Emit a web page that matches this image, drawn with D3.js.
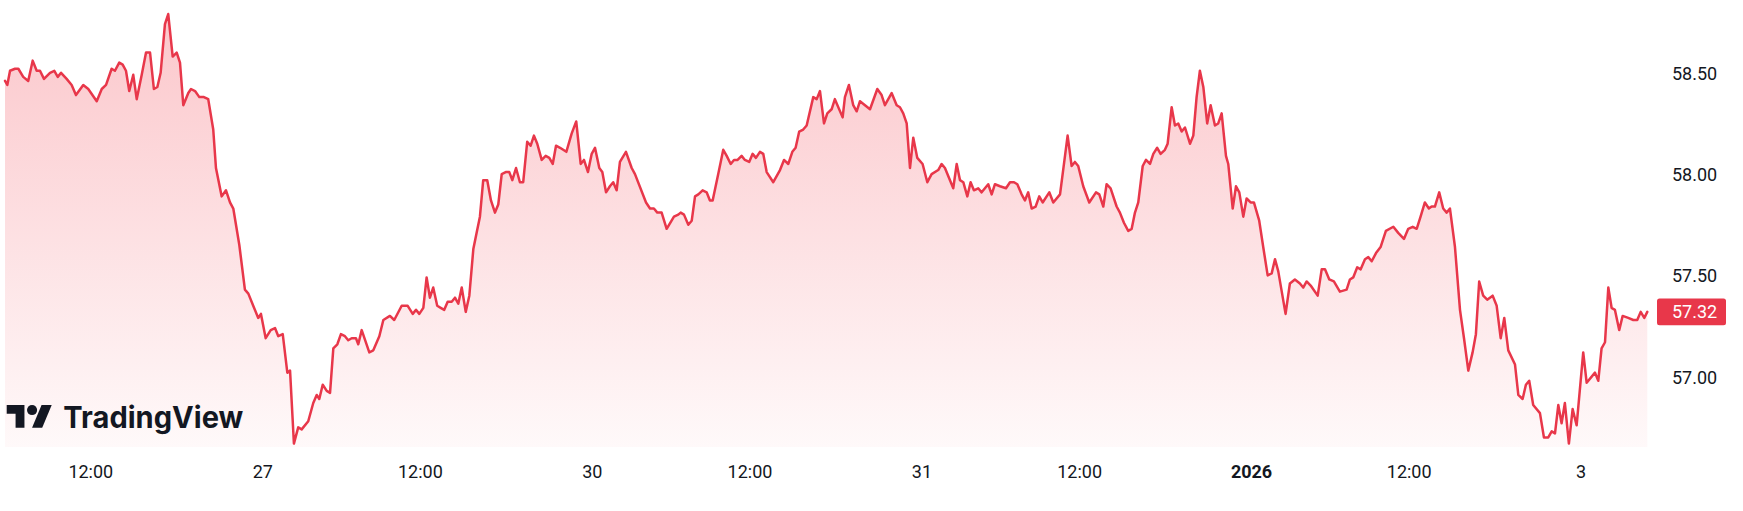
<!DOCTYPE html>
<html><head><meta charset="utf-8">
<script src="https://cdn.jsdelivr.net/npm/d3@7"></script>
<style>html,body{margin:0;padding:0;background:#fff;overflow:hidden}</style>
</head><body>
<svg id="chart" width="1743" height="511"></svg>
<script>
// trading hours elapsed since the first "12:00" tick
const hours = [-5.95,-5.79,-5.60,-5.25,-5.02,-4.68,-4.33,-4.02,-3.74,-3.51,-3.23,-2.81,-2.51,-2.27,-2.04,-1.65,-1.30,-1.00,-0.49,-0.14,
0.45,0.80,1.10,1.49,1.72,2.02,2.26,2.49,2.72,3.00,3.24,3.59,3.89,4.17,4.44,4.68,4.91,5.21,5.44,5.75,
6.03,6.26,6.49,6.84,7.03,7.31,7.61,7.93,8.23,8.58,8.77,9.17,9.47,9.75,9.98,10.40,10.79,11.03,11.37,11.72,
11.91,12.24,12.59,12.89,13.12,13.43,13.75,13.94,14.21,14.51,14.75,15.21,15.56,15.80,15.98,16.22,16.50,16.73,16.96,17.24,
17.49,17.77,18.00,18.24,18.54,18.70,18.94,19.47,19.75,20.17,20.45,20.91,21.21,21.73,22.15,22.50,22.73,22.96,23.24,23.47,
23.70,23.93,24.21,24.45,24.70,24.94,25.22,25.45,25.68,25.92,26.20,26.45,26.73,26.96,27.19,27.42,27.70,27.96,28.24,28.47,
28.71,28.99,29.24,29.45,29.71,29.98,30.21,30.49,30.73,30.96,31.19,31.50,31.78,32.03,32.27,32.50,32.78,33.22,33.59,33.91,
34.22,34.45,34.73,34.99,35.22,35.52,35.73,35.99,36.26,36.49,36.73,36.96,37.38,37.78,38.01,38.78,39.06,39.33,39.57,39.87,
40.22,40.73,41.03,41.20,41.43,41.73,41.97,42.20,42.43,42.73,43.01,43.24,43.43,43.82,44.17,44.41,44.69,44.92,45.17,45.45,
45.68,45.98,46.22,46.45,46.73,46.96,47.20,47.66,48.13,48.41,48.71,48.99,49.22,49.47,49.75,49.99,50.45,50.69,50.92,51.20,
51.43,51.73,51.96,52.50,52.66,52.94,53.24,53.48,53.71,54.06,54.41,54.92,55.22,55.45,55.92,56.27,56.50,56.73,56.97,57.20,
57.43,57.71,58.08,58.41,58.71,59.17,59.41,59.64,60.22,60.46,60.69,60.92,61.20,61.43,61.66,61.96,62.20,62.66,62.90,63.13,
63.48,63.90,64.18,64.46,64.69,64.99,65.22,65.45,65.69,65.97,66.22,66.46,66.92,67.20,67.67,68.20,68.48,68.71,68.94,69.29,
69.71,70.18,70.41,70.69,70.92,71.20,71.62,71.85,72.13,72.43,72.67,72.90,73.13,73.44,73.67,73.95,74.18,74.45,74.69,74.99,
75.18,75.46,75.69,75.92,76.16,76.39,76.74,76.97,77.20,77.43,77.67,77.94,78.18,78.48,78.71,78.95,79.25,79.41,79.72,79.95,
80.18,80.46,80.69,80.97,81.20,81.57,81.85,82.16,82.44,82.67,82.90,83.41,83.71,84.06,84.41,84.64,84.88,85.16,85.65,85.93,
86.16,86.46,86.78,87.20,87.67,87.90,88.13,88.41,88.65,88.95,89.18,89.42,89.72,90.04,90.41,90.93,91.27,91.67,91.97,92.28,
92.56,92.83,93.13,93.41,93.60,93.83,94.13,94.41,94.65,94.88,95.23,95.58,95.86,96.16,96.46,96.69,96.92,97.20,97.48,97.86,
98.14,98.42,98.67,98.95,99.42,99.65,99.95,100.18,100.41,100.69,101.16,101.44,101.74,101.98,102.21,102.44,102.67,102.90,103.18,103.44,
103.72,104.18,104.42,105.00,105.23,105.46,105.70,105.93,106.16,106.39,106.69,106.93,107.32,107.67,107.95,108.19,108.44,108.65];

const prices = [58.46,58.44,58.51,58.52,58.52,58.48,58.46,58.56,58.51,58.51,58.47,58.50,58.51,58.48,58.50,58.47,58.44,58.39,58.44,58.42,
58.36,58.42,58.44,58.52,58.51,58.55,58.54,58.51,58.41,58.49,58.37,58.49,58.60,58.60,58.42,58.43,58.50,58.74,58.79,58.58,
58.60,58.55,58.34,58.40,58.42,58.41,58.38,58.38,58.37,58.22,58.03,57.89,57.92,57.86,57.83,57.65,57.43,57.41,57.35,57.29,
57.31,57.19,57.23,57.24,57.20,57.21,57.02,57.03,56.67,56.75,56.74,56.78,56.87,56.91,56.89,56.96,56.93,56.92,57.14,57.16,
57.21,57.20,57.18,57.19,57.19,57.16,57.23,57.12,57.13,57.20,57.28,57.30,57.28,57.35,57.35,57.31,57.33,57.31,57.34,57.49,
57.39,57.44,57.35,57.34,57.33,57.37,57.37,57.39,57.36,57.44,57.32,57.40,57.63,57.71,57.79,57.97,57.97,57.87,57.81,57.85,
58.00,58.01,58.01,57.97,58.03,57.96,57.96,58.16,58.14,58.19,58.15,58.07,58.09,58.08,58.05,58.14,58.13,58.11,58.20,58.26,
58.05,58.07,58.01,58.10,58.13,58.03,58.01,57.91,57.94,57.96,57.92,58.06,58.11,58.03,58.00,57.86,57.83,57.83,57.81,57.81,
57.73,57.79,57.80,57.81,57.80,57.75,57.77,57.89,57.90,57.92,57.91,57.87,57.87,58.00,58.12,58.09,58.05,58.07,58.07,58.09,
58.07,58.06,58.10,58.08,58.11,58.10,58.01,57.96,58.02,58.07,58.05,58.11,58.13,58.21,58.22,58.24,58.38,58.37,58.41,58.25,
58.30,58.32,58.37,58.28,58.38,58.44,58.34,58.31,58.36,58.34,58.32,58.42,58.39,58.34,58.40,58.34,58.33,58.30,58.25,58.03,
58.18,58.08,58.05,57.96,58.00,58.02,58.05,58.03,57.93,58.05,57.97,57.96,57.89,57.96,57.92,57.93,57.91,57.95,57.90,57.95,
57.94,57.93,57.96,57.96,57.95,57.90,57.87,57.91,57.83,57.84,57.89,57.86,57.91,57.86,57.90,58.19,58.04,58.06,58.04,57.94,
57.86,57.91,57.90,57.84,57.95,57.93,57.84,57.81,57.76,57.72,57.73,57.81,57.86,58.04,58.07,58.05,58.10,58.13,58.10,58.12,
58.15,58.33,58.24,58.25,58.21,58.23,58.15,58.19,58.38,58.51,58.43,58.25,58.34,58.24,58.25,58.30,58.09,58.05,57.83,57.94,
57.91,57.79,57.88,57.86,57.86,57.77,57.64,57.50,57.51,57.58,57.52,57.31,57.46,57.48,57.46,57.44,57.47,57.45,57.40,57.53,
57.53,57.48,57.47,57.42,57.43,57.48,57.49,57.54,57.53,57.58,57.59,57.57,57.61,57.64,57.72,57.74,57.71,57.68,57.73,57.74,
57.73,57.79,57.86,57.83,57.84,57.84,57.91,57.83,57.81,57.83,57.64,57.33,57.19,57.03,57.12,57.21,57.47,57.40,57.38,57.40,
57.35,57.19,57.29,57.13,57.06,56.91,56.89,56.96,56.98,56.86,56.82,56.70,56.70,56.73,56.72,56.86,56.77,56.87,56.67,56.84,
56.76,57.12,56.97,57.02,56.98,57.14,57.17,57.44,57.34,57.33,57.23,57.30,57.29,57.28,57.28,57.32,57.29,57.32];

const timeTickHours = [0,12,23,35,46,58,69,81,92,104];
const timeTickLabels = ["12:00","27","12:00","30","12:00","31","12:00","2026","12:00","3"];
const boldTickLabels = ["2026"];
const priceTicks = [57.00,57.50,58.00,58.50];

const RED = "#e8374a";
const TEXT = "#131722";
const paneBottom = 447;

const svg = d3.select("#chart");
const x = d3.scaleLinear().domain([-6, 108.7]).range([4.3, 1648]);
const y = d3.scaleLinear().domain([57, 58.5]).range([376.7, 72.8]);

const data = hours.map((h,i)=>({h, v: prices[i]}));
const minY = d3.min(data, d=>y(d.v));

const defs = svg.append("defs");
const grad = defs.append("linearGradient").attr("id","fillGrad")
  .attr("gradientUnits","userSpaceOnUse").attr("x1",0).attr("x2",0)
  .attr("y1",minY).attr("y2",paneBottom);
grad.append("stop").attr("offset","0").attr("stop-color","#f23645").attr("stop-opacity",0.28);
grad.append("stop").attr("offset","1").attr("stop-color","#f23645").attr("stop-opacity",0.03);

svg.append("path").datum(data)
  .attr("fill","url(#fillGrad)")
  .attr("d", d3.area().x(d=>x(d.h)).y0(paneBottom).y1(d=>y(d.v)));

svg.append("path").datum(data)
  .attr("fill","none").attr("stroke",RED).attr("stroke-width",2.5)
  .attr("stroke-linejoin","round").attr("stroke-linecap","round")
  .attr("d", d3.line().x(d=>x(d.h)).y(d=>y(d.v)));

// time axis
const xAxis = d3.axisBottom(x).tickValues(timeTickHours)
  .tickFormat((d,i)=>timeTickLabels[i]).tickSize(0);
const gx = svg.append("g").attr("transform",`translate(0,${paneBottom})`).call(xAxis);
gx.select(".domain").remove();
gx.selectAll("text").attr("y",30.5).attr("dy",null)
  .attr("fill",TEXT).style("font-family","Roboto, 'Liberation Sans', sans-serif")
  .style("font-size","18px")
  .style("font-weight",(d,i)=>boldTickLabels.includes(timeTickLabels[i])?"700":"400");

// price axis
const yAxis = d3.axisRight(y).tickValues(priceTicks).tickFormat(d3.format(".2f")).tickSize(0);
const gy = svg.append("g").attr("transform","translate(1672,0)").call(yAxis);
gy.select(".domain").remove();
gy.selectAll("text").attr("x",0).attr("dy","0.355em").attr("text-anchor","start")
  .attr("fill",TEXT).style("font-family","Roboto, 'Liberation Sans', sans-serif").style("font-size","18px");

// last price label
const lastPrice = prices[prices.length-1];
const ly = y(lastPrice);
svg.append("rect").attr("x",1657).attr("y",ly-13.3).attr("width",69).attr("height",26.6)
  .attr("rx",2.5).attr("fill",RED);
svg.append("text").attr("x",1672).attr("y",ly).attr("dy","0.355em")
  .attr("fill","#fff").style("font-family","Roboto, 'Liberation Sans', sans-serif")
  .style("font-size","18px").text(d3.format(".2f")(lastPrice));

// TradingView logo
const logo = svg.append("g").attr("transform","translate(6.7,399.9) scale(1.268)").attr("fill",TEXT);
logo.append("path").attr("d","M14 22H7V11H0V4h14v18z");
logo.append("circle").attr("cx",20).attr("cy",8).attr("r",4);
logo.append("path").attr("d","M28 22h-8l7.5-18h8L28 22z");
svg.append("text").attr("x",63.3).attr("y",427.7).attr("fill",TEXT)
  .attr("textLength",180).attr("lengthAdjust","spacingAndGlyphs")
  .style("font-family","Inter, 'Open Sans', sans-serif").style("font-weight","700")
  .style("font-size","30px").text("TradingView");
</script>
</body></html>
